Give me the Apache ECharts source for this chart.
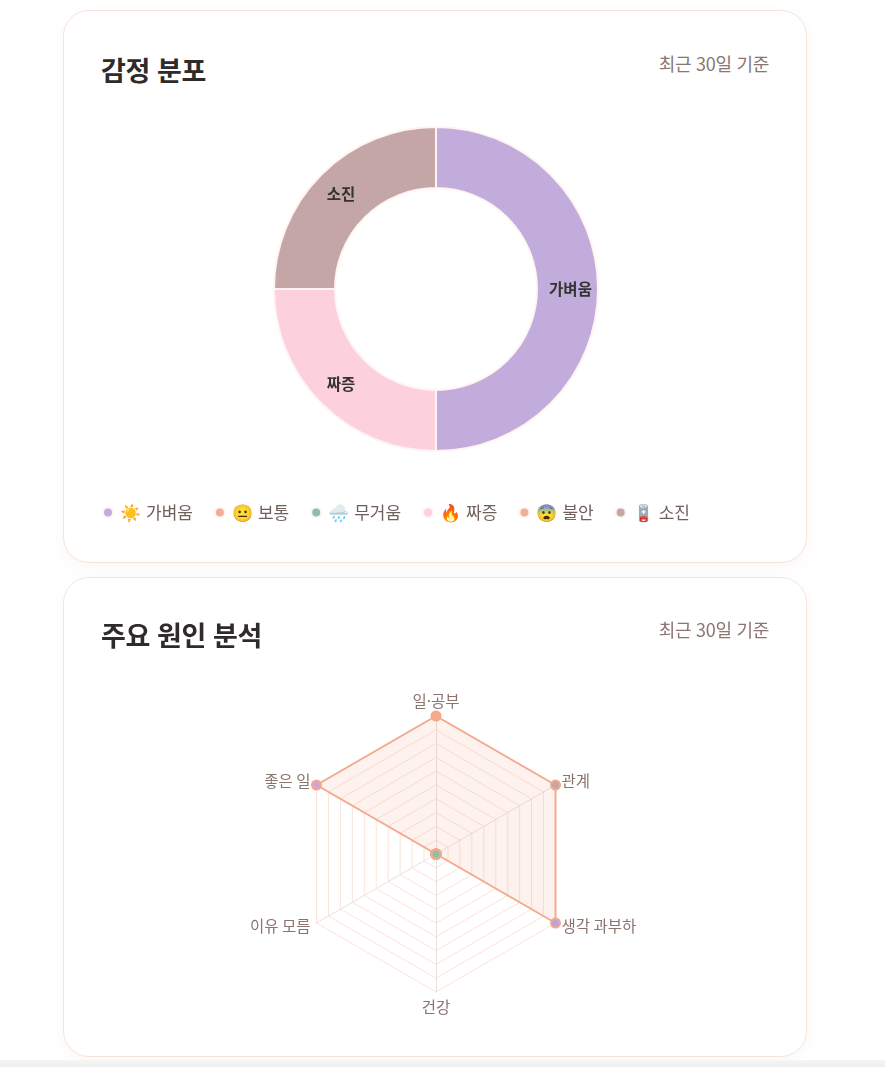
<!DOCTYPE html>
<html lang="ko">
<head>
<meta charset="utf-8">
<script src="https://cdn.jsdelivr.net/npm/echarts@6/dist/echarts.min.js"></script>
<style>
  html, body { margin: 0; padding: 0; background: #ffffff; }
  body { width: 885px; height: 1067px; position: relative; overflow: hidden;
         font-family: "Noto Sans CJK KR", "Noto Sans", sans-serif; }
  .card { position: absolute; left: 63px; width: 744px; background: #fff;
          border: 1px solid #f6e4dc; border-radius: 26px; box-sizing: border-box;
          box-shadow: 0 4px 14px rgba(220,190,175,0.12); }
  .title { position: absolute; left: 37px; font-size: 27px; font-weight: 700; color: #2f2b2a; letter-spacing: -0.4px; line-height: 1.2; }
  .sub { position: absolute; right: 37px; font-size: 18px; color: #8a7672; letter-spacing: -0.3px; line-height: 1.2; }
  .chart { position: absolute; left: 0; top: 0; width: 744px; }
  .bottombar { position: absolute; left: 0; top: 1060px; width: 885px; height: 7px; background: linear-gradient(#f6f4f4, #efeeee); }
</style>
</head>
<body>
<div class="card" id="card1" style="top:10px;height:553px;">
  <div class="title" style="top:43px;">감정 분포</div>
  <div class="sub" style="top:42px;">최근 30일 기준</div>
  <div class="chart" id="pie" style="height:553px;"></div>
</div>
<div class="card" id="card2" style="top:577px;height:480px;">
  <div class="title" style="top:41px;">주요 원인 분석</div>
  <div class="sub" style="top:41px;">최근 30일 기준</div>
  <div class="chart" id="radar" style="height:480px;"></div>
</div>
<div class="bottombar"></div>
<script>
// ---- Emotion distribution data ----
const emotionNames = ['가벼움', '보통', '무거움', '짜증', '불안', '소진'];
const emotionEmojis = ['☀️', '😐', '🌧️', '🔥', '😨', '🪫'];
const emotionValues = [2, 0, 0, 1, 0, 1];
const emotionColors = ['#c1acdc', '#f5ae96', '#8fbfa8', '#fcd0dc', '#f5ae96', '#c4a6a6'];

// ---- Cause analysis data (counter-clockwise from top) ----
const causeNames = ['일·공부', '좋은 일', '이유 모름', '건강', '생각 과부하', '관계'];
const causeValues = [10, 10, 0, 0, 10, 10];
const causeMax = 10;
const causeDotColors = ['#f5a98c', '#d2a5d8', '#8fbfa8', '#8fbfa8', '#b8a5da', '#c4a8a8'];

const pie = echarts.init(document.getElementById('pie'));
pie.setOption({
  animation: false,
  legend: {
    left: 33, top: 488,
    icon: 'circle', itemWidth: 10, itemHeight: 10, itemGap: 21,
    data: emotionNames,
    formatter: function (name) { return '{e|' + emotionEmojis[emotionNames.indexOf(name)] + '}' + name; },
    textStyle: {
      color: '#6f605c', fontSize: 17, fontFamily: 'Noto Sans CJK KR', padding: [0, 0, 0, 2],
      rich: { e: { fontSize: 17, padding: [0, 5, 0, 0] } }
    }
  },
  series: [{
    type: 'pie',
    center: [372, 278],
    radius: [101, 162],
    minShowLabelAngle: 1,
    itemStyle: { borderColor: '#fff4f1', borderWidth: 2 },
    label: { show: true, position: 'inside', color: '#333', fontSize: 15.5, fontWeight: 'bold', fontFamily: 'Noto Sans CJK KR' },
    labelLine: { show: false },
    data: emotionNames.map((n, i) => ({ name: n, value: emotionValues[i], itemStyle: { color: emotionColors[i] } }))
  }]
});

const radar = echarts.init(document.getElementById('radar'));
const dotSeries = [];
causeValues.forEach((v, i) => {
  if (v > 0) {
    dotSeries.push({
      type: 'radar', z: 3,
      symbol: 'circle', symbolSize: 9,
      lineStyle: { width: 0, opacity: 0 },
      itemStyle: { color: causeDotColors[i], borderColor: '#f5a98c', borderWidth: 2 },
      data: [{ value: causeValues.map((w, j) => (j === i ? w : 0)) }]
    });
  }
});
const zeroIdx = causeValues.findIndex(v => v === 0);
dotSeries.push({
  type: 'radar', z: 4,
  symbol: 'circle', symbolSize: 9,
  lineStyle: { width: 0, opacity: 0 },
  itemStyle: { color: causeDotColors[zeroIdx], borderColor: '#f5a98c', borderWidth: 2 },
  data: [{ value: causeValues.map(w => (w === 0 ? w : 0)) }]
});

radar.setOption({
  animation: false,
  radar: {
    center: [372, 276],
    radius: 138,
    shape: 'polygon',
    splitNumber: 10,
    indicator: causeNames.map(n => ({ name: n, max: causeMax })),
    axisName: { color: '#8a7470', fontSize: 15.5, fontFamily: 'Noto Sans CJK KR' },
    nameGap: 7,
    axisLine: { lineStyle: { color: '#e6e0dd', width: 1 } },
    splitLine: { lineStyle: { color: '#fbe3da', width: 1 } },
    splitArea: { show: false }
  },
  series: [{
    type: 'radar', z: 2,
    symbol: 'none',
    lineStyle: { color: '#f5a98c', width: 2 },
    areaStyle: { color: 'rgba(245,169,140,0.22)' },
    data: [{ value: causeValues }]
  }].concat(dotSeries)
});
</script>
</body>
</html>
